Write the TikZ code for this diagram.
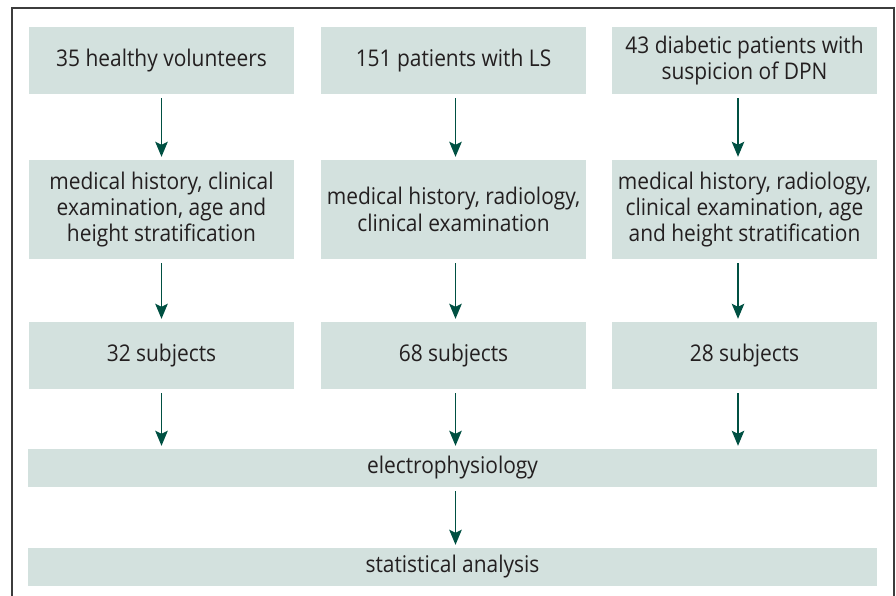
\documentclass[tikz,border=0pt]{standalone}
\usepackage{fontspec}
\setmainfont{Open Sans}[FakeStretch=0.91]
\usetikzlibrary{arrows.meta}
\definecolor{boxfill}{RGB}{211,225,222}
\definecolor{arrowcol}{RGB}{0,80,66}
\definecolor{txt}{RGB}{35,31,32}
\definecolor{framecol}{RGB}{60,60,60}
\tikzset{
  box/.style={fill=boxfill, draw=none, inner sep=0pt, align=center, text=txt,
    font=\fontsize{23}{26.3}\selectfont},
  colbox/.style={box, minimum width=265pt},
  widebox/.style={box, minimum width=849pt, minimum height=38pt},
  arr/.style={draw=arrowcol, line width=1.3pt, -{Stealth[length=15pt,width=12.5pt,inset=3pt]},
    shorten <=4pt, shorten >=3pt}
}
\begin{document}
\begin{tikzpicture}[x=1pt,y=-1pt]
\useasboundingbox (0,0) rectangle (896,596);
\draw[framecol, line width=1.4pt] (12,596) -- (12,8) -- (894,8) -- (894,596);
% row 1
\node[colbox, minimum height=67pt] (a1) at (161.5,60.5) {35 healthy volunteers};
\node[colbox, minimum height=67pt] (b1) at (453.5,60.5) {151 patients with LS};
\node[colbox, minimum height=67pt] (c1) at (744.5,60.5) {43 diabetic patients with\\suspicion of DPN};
% row 2
\node[colbox, minimum height=99pt] (a2) at (161.5,209.5) {medical history, clinical\\examination, age and\\height stratification};
\node[colbox, minimum height=99pt] (b2) at (453.5,209.5) {medical history, radiology,\\clinical examination};
\node[colbox, minimum height=99pt] (c2) at (744.5,209.5) {medical history, radiology,\\clinical examination, age\\and height stratification};
% row 3
\node[colbox, minimum height=67pt] (a3) at (161.5,355.5) {32 subjects};
\node[colbox, minimum height=67pt] (b3) at (453.5,355.5) {68 subjects};
\node[colbox, minimum height=67pt] (c3) at (744.5,355.5) {28 subjects};
% rows 4,5
\node[widebox] (e) at (452.5,468) {electrophysiology};
\node[widebox] (s) at (452.5,567) {statistical analysis};
% arrows
\draw[arr] (a1.south) -- (a2.north);
\draw[arr] ([xshift=2pt]b1.south) -- ([xshift=2pt]b2.north);
\draw[arr] ([xshift=-6.5pt]c1.south) -- ([xshift=-6.5pt]c2.north);
\draw[arr] (a2.south) -- (a3.north);
\draw[arr] ([xshift=2pt]b2.south) -- ([xshift=2pt]b3.north);
\draw[arr] ([xshift=-6.5pt]c2.south) -- ([xshift=-6.5pt]c3.north);
\draw[arr] (a3.south) -- (a3.south |- e.north);
\draw[arr] ([xshift=2pt]b3.south) -- ([xshift=2pt]b3.south |- e.north);
\draw[arr] ([xshift=-6.5pt]c3.south) -- ([xshift=-6.5pt]c3.south |- e.north);
\draw[arr] ([xshift=3pt]e.south) -- ([xshift=3pt]s.north);
\end{tikzpicture}
\end{document}
